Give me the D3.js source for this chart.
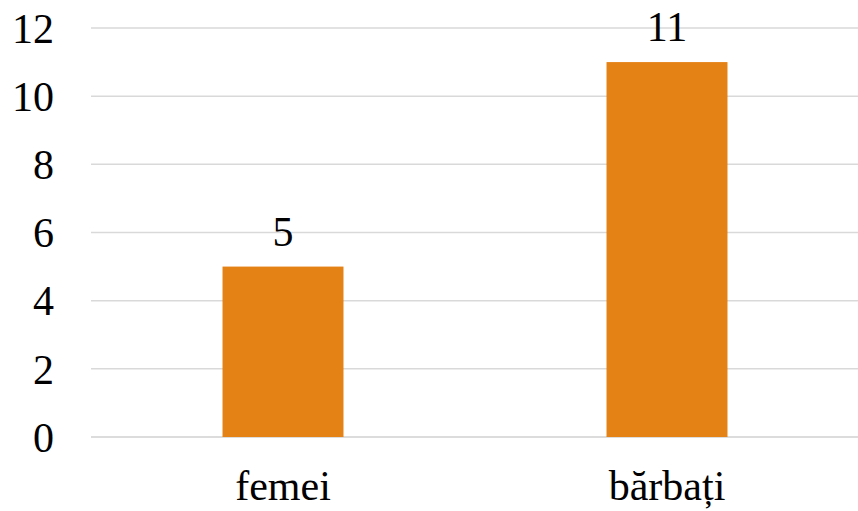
<!DOCTYPE html>
<html>
<head>
<meta charset="utf-8">
<script src="https://cdn.jsdelivr.net/npm/d3@7"></script>
<style>
  html, body { margin: 0; padding: 0; background: #fff; }
  svg { display: block; }
  text { font-family: "Liberation Serif", "Times New Roman", serif; fill: #000; }
</style>
</head>
<body>
<svg id="chart" width="858" height="511"></svg>
<script>
// Number of respondents by gender
const categories = ["femei", "bărbați"];
const values = [5, 11];
const yTicks = [0, 2, 4, 6, 8, 10, 12];

const width = 858, height = 511;
const plot = { left: 91, right: 859, top: 28, bottom: 437 };
const fontSize = 42;

const svg = d3.select("#chart");

const x = d3.scaleBand()
  .domain(categories)
  .range([plot.left, plot.right])
  .paddingInner(0.685)
  .paddingOuter(0.3425);

const y = d3.scaleLinear()
  .domain([0, 12])
  .range([plot.bottom, plot.top]);

// horizontal gridlines
svg.append("g")
  .selectAll("line")
  .data(yTicks)
  .join("line")
  .attr("x1", plot.left)
  .attr("x2", plot.right)
  .attr("y1", d => y(d))
  .attr("y2", d => y(d))
  .attr("stroke", d => d === 0 ? "#d0d0d0" : "#d9d9d9")
  .attr("stroke-width", 1.5);

// y-axis tick labels
svg.append("g")
  .selectAll("text")
  .data(yTicks)
  .join("text")
  .attr("x", 54)
  .attr("y", d => y(d))
  .attr("dy", "0.35em")
  .attr("text-anchor", "end")
  .attr("font-size", fontSize)
  .text(d => d);

// bars
svg.append("g")
  .selectAll("rect")
  .data(values)
  .join("rect")
  .attr("x", (d, i) => x(categories[i]))
  .attr("y", d => y(d))
  .attr("width", x.bandwidth())
  .attr("height", d => y(0) - y(d))
  .attr("fill", "#e58216");

// value labels
svg.append("g")
  .selectAll("text")
  .data(values)
  .join("text")
  .attr("x", (d, i) => x(categories[i]) + x.bandwidth() / 2)
  .attr("y", d => y(d) - 21)
  .attr("text-anchor", "middle")
  .attr("font-size", fontSize)
  .text(d => d);

// category labels
svg.append("g")
  .selectAll("text")
  .data(categories)
  .join("text")
  .attr("x", d => x(d) + x.bandwidth() / 2)
  .attr("y", 500)
  .attr("text-anchor", "middle")
  .attr("font-size", fontSize)
  .text(d => d);
</script>
</body>
</html>
